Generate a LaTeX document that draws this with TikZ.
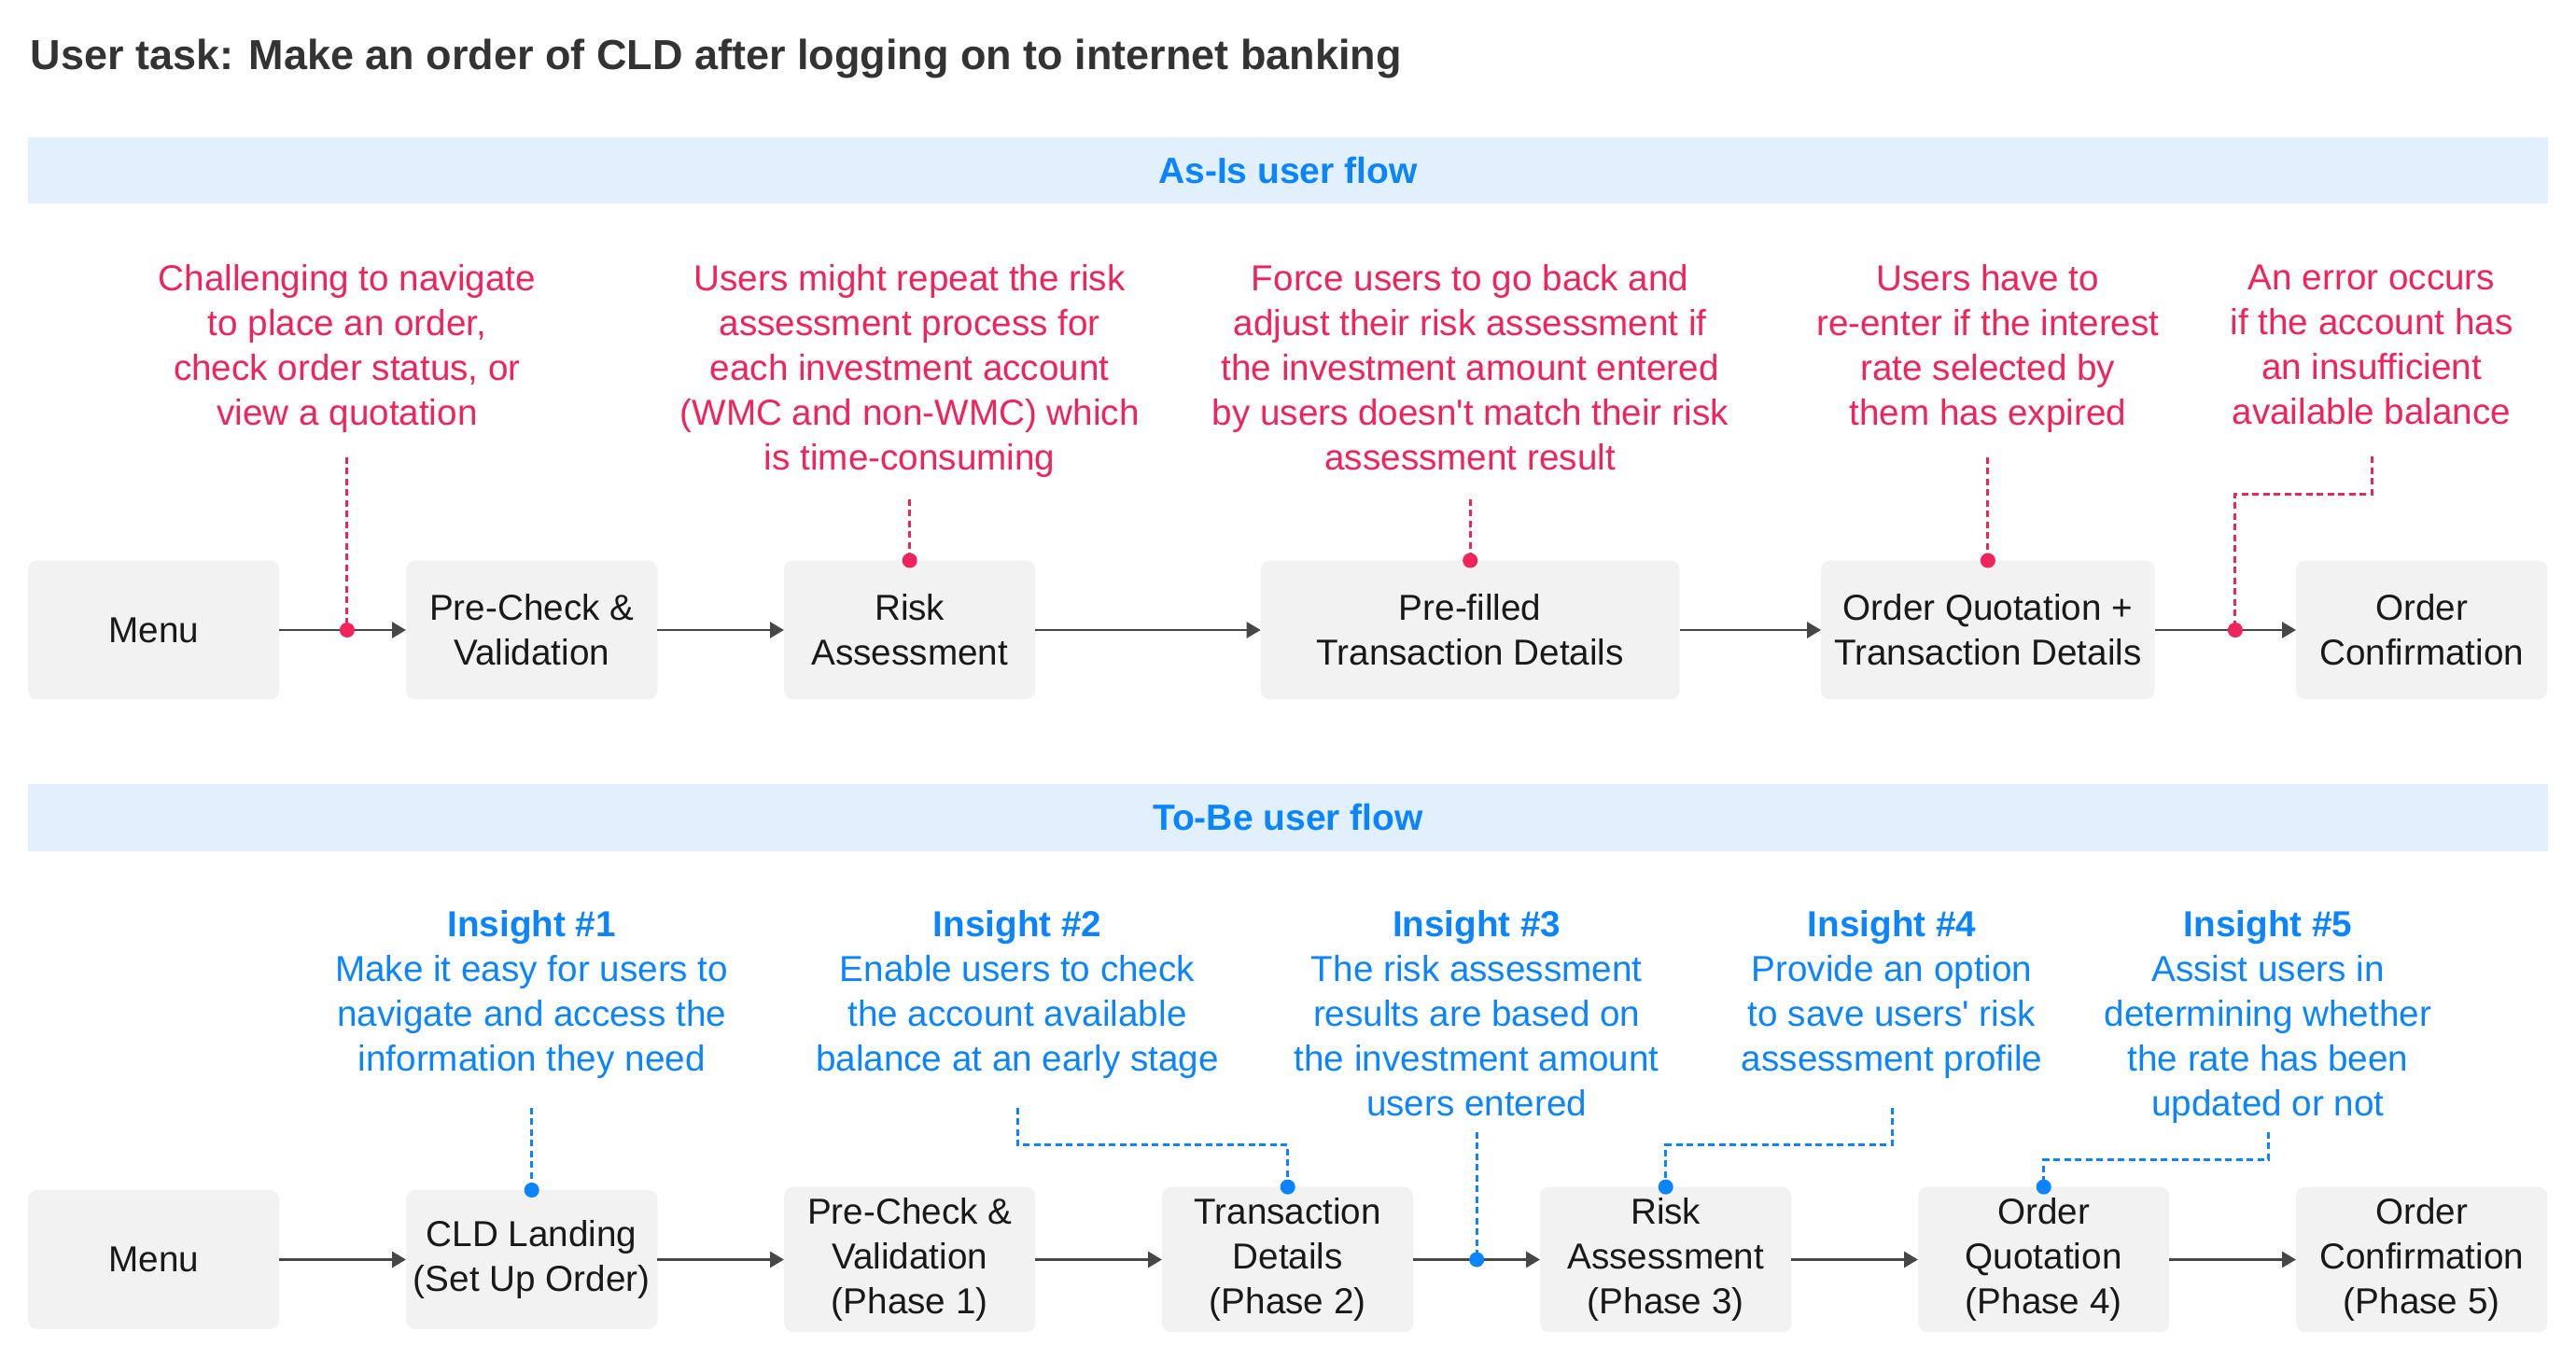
\documentclass[tikz,border=0pt]{standalone}
\usepackage{fontspec}
\setmainfont{Liberation Sans}[Ligatures=TeXOff]
\usetikzlibrary{positioning,arrows.meta}
\usetikzlibrary{calc}

\definecolor{alertred}{HTML}{F0245A}
\definecolor{insightblue}{HTML}{0A84FF}
\definecolor{bandblue}{HTML}{E1F0FC}
\definecolor{boxgray}{HTML}{F2F2F2}
\definecolor{flowgray}{HTML}{474747}
\definecolor{titlegray}{HTML}{333333}

\begin{document}
\begin{tikzpicture}[
    % Flow step
    flow box/.style={
        fill=boxgray,
        rounded corners=1mm,
        minimum width=2.694cm,
        minimum height=1.49cm,
        inner xsep=0.5mm,
        outer sep=0pt,
        align=center,
        text=black!90,
        font=\fontsize{11}{13.7}\selectfont
    },
    % Section band
    band/.style={
        fill=bandblue,
        text=insightblue,
        minimum width=27cm,
        minimum height=0.71cm,
        font=\fontsize{11.1}{13}\selectfont\bfseries
    },
    % Pain point (as-is)
    pain note/.style={
        text=alertred,
        align=center,
        inner sep=0pt,
        execute at begin node=\strut,
        execute at end node=\strut,
        font=\fontsize{11}{13.7}\selectfont
    },
    % Insight (to-be)
    insight note/.style={
        text=insightblue,
        align=center,
        inner sep=0pt,
        execute at begin node=\strut,
        execute at end node=\strut,
        font=\fontsize{11}{13.7}\selectfont
    },
    % Arrow
    arrow/.style={
        -{Triangle[length=0.15cm,width=0.17cm]},
        line width=0.8pt,
        draw=flowgray
    },
    % Dotted leader with end dot
    lead/.style={
        line width=0.85pt,
        dash pattern=on 0.07cm off 0.045cm,
        -{Circle[length=0.16cm]},
        shorten >=-0.08cm
    }
]

\useasboundingbox (0,0) rectangle (27.6,14.4);

% Title
\node[anchor=base west, inner sep=0pt, text=titlegray, font=\fontsize{12.8}{15}\selectfont\bfseries] (task) at (0.32,13.65)
    {User task: Make an order of CLD after logging on to internet banking};

% Section bands
\node[band] (asis) at (13.80,12.57) {As-Is user flow};
\node[band] (tobe) at (13.80,5.64) {To-Be user flow};

% Top row (As-Is flow)
\node[flow box] (menuA) at (1.647,7.65) {Menu};
\node[flow box, right=1.356cm of menuA] (checkA) {Pre-Check \&\\Validation};
\node[flow box, right=1.356cm of checkA] (riskA) {Risk\\Assessment};
\node[flow box, minimum width=4.49cm, right=2.413cm of riskA] (fillA) {Pre-filled\\Transaction Details};
\node[flow box, minimum width=3.575cm, right=1.514cm of fillA] (quoteA) {Order Quotation +\\Transaction Details};
\node[flow box, right=1.514cm of quoteA] (confA) {Order\\Confirmation};

% Bottom row (To-Be flow)
\node[flow box] (menuB) at (1.647,0.905) {Menu};
\node[flow box, right=1.356cm of menuB] (landB) {CLD Landing\\(Set Up Order)};
\node[flow box, right=1.356cm of landB] (checkB) {Pre-Check \&\\Validation\\(Phase 1)};
\node[flow box, right=1.356cm of checkB] (tdB) {Transaction\\Details\\(Phase 2)};
\node[flow box, right=1.356cm of tdB] (riskB) {Risk\\Assessment\\(Phase 3)};
\node[flow box, right=1.356cm of riskB] (quoteB) {Order\\Quotation\\(Phase 4)};
\node[flow box, right=1.356cm of quoteB] (confB) {Order\\Confirmation\\(Phase 5)};

% Points on the arrows
\coordinate (m1) at ($(menuA.east)!0.535!(checkA.west)$);
\coordinate (m5) at ($(quoteA.east)!0.57!(confA.west)$);
\coordinate (m3) at ($(tdB.east)!0.5!(riskB.west)$);

% Flow arrows
\draw[arrow] (menuA) -- (checkA);
\draw[arrow] (checkA) -- (riskA);
\draw[arrow] (riskA) -- (fillA);
\draw[arrow] (fillA) -- (quoteA);
\draw[arrow] (quoteA) -- (confA);

\draw[arrow] (menuB) -- (landB);
\draw[arrow] (landB) -- (checkB);
\draw[arrow] (checkB) -- (tdB);
\draw[arrow] (tdB) -- (riskB);
\draw[arrow] (riskB) -- (quoteB);
\draw[arrow] (quoteB) -- (confB);

% Pain points
\node[pain note] (pain1) at (m1 |- 0,10.634) {Challenging to navigate\\to place an order,\\check order status, or\\view a quotation};
\node[pain note] (pain2) at (riskA |- 0,10.393) {Users might repeat the risk\\assessment process for\\each investment account\\(WMC and non-WMC) which\\is time-consuming};
\node[pain note] (pain3) at (fillA |- 0,10.393) {Force users to go back and\\adjust their risk assessment if\\the investment amount entered\\by users doesn't match their risk\\assessment result};
\node[pain note] (pain4) at (quoteA |- 0,10.634) {Users have to\\re-enter if the interest\\rate selected by\\them has expired};
\node[pain note] (pain5) at (25.41,10.634) {An error occurs\\if the account has\\an insufficient\\available balance};

\draw[lead, alertred, shorten <=0.19cm] (pain1.south) -- (m1);
\draw[lead, alertred, shorten <=0.16cm] (pain2.south) -- (riskA.north);
\draw[lead, alertred, shorten <=0.16cm] (pain3.south) -- (fillA.north);
\draw[lead, alertred, shorten <=0.19cm] (pain4.south) -- (pain4.south |- quoteA.north);
\draw[lead, alertred, shorten <=0.19cm] (pain5.south) -- ++(0,-0.59) -| (m5);

% Insights
\node[insight note] (ins1) at (landB |- 0,3.714) {\textbf{Insight \#1}\\Make it easy for users to\\navigate and access the\\information they need};
\node[insight note] (ins2) at (10.90,3.714) {\textbf{Insight \#2}\\Enable users to check\\the account available\\balance at an early stage};
\node[insight note] (ins3) at (m3 |- 0,3.473) {\textbf{Insight \#3}\\The risk assessment\\results are based on\\the investment amount\\users entered};
\node[insight note] (ins4) at (20.27,3.714) {\textbf{Insight \#4}\\Provide an option\\to save users' risk\\assessment profile};
\node[insight note] (ins5) at (24.30,3.473) {\textbf{Insight \#5}\\Assist users in\\determining whether\\the rate has been\\updated or not};

\draw[lead, insightblue, shorten <=0.24cm] (ins1.south) -- (landB.north);
\draw[lead, insightblue, shorten <=0.24cm] (ins2.south) -- ++(0,-0.64) -| (tdB.north);
\draw[lead, insightblue, shorten <=0.02cm] (ins3.south) -- (m3);
\draw[lead, insightblue, shorten <=0.24cm] (ins4.south) -- ++(0,-0.64) -| (riskB.north);
\draw[lead, insightblue, shorten <=0.02cm] (ins5.south) -- ++(0,-0.32) -| (quoteB.north);

\end{tikzpicture}
\end{document}
